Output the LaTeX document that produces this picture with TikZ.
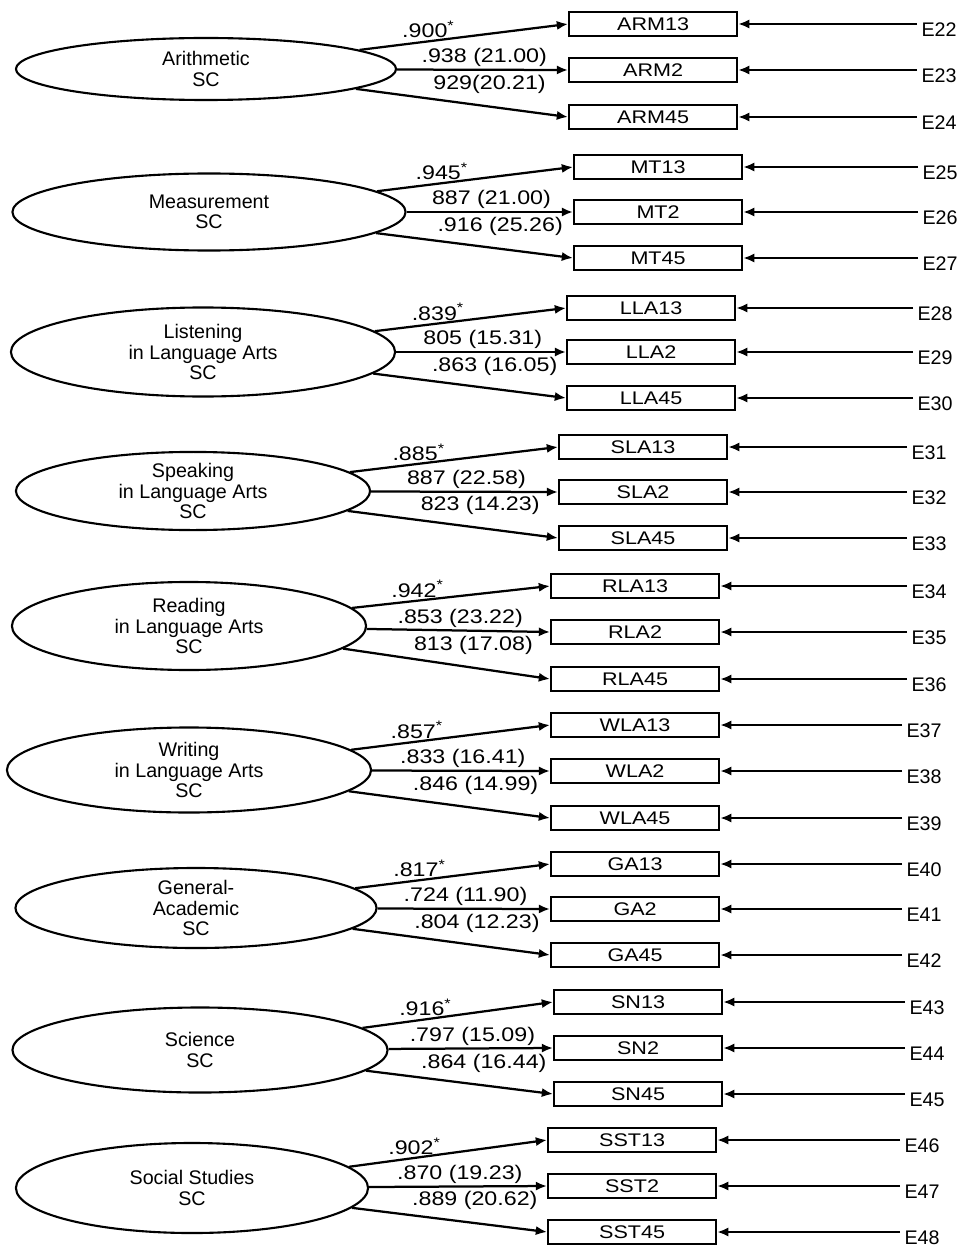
\documentclass[tikz,border=0pt]{standalone}
\usepackage{fontspec}
\setmainfont{Liberation Sans}
\newfontfamily\widesans[FakeStretch=1.18]{Liberation Sans}
\usetikzlibrary{arrows.meta,shapes.geometric}
\tikzset{
  latent/.style={draw, ellipse, line width=1.5pt, inner sep=0pt, align=center,
                 font=\fontsize{14}{14.5}\selectfont},
  itembox/.style={draw, rectangle, line width=1.5pt, anchor=west, minimum width=4.2cm,
                  minimum height=0.6cm, inner sep=0pt, font=\widesans\fontsize{13}{15}\selectfont},
  errlbl/.style={anchor=west, inner sep=3pt, font=\fontsize{14}{16}\selectfont},
  coef/.style={above, inner sep=1.5pt, font=\widesans\fontsize{14}{16}\selectfont},
  larr/.style={-{Latex[length=2.8mm,width=2.3mm]}, line width=1.6pt}}
\newcommand{\fixed}[1]{#1\textsuperscript{*}}

\begin{document}
\begin{tikzpicture}[x=0.025cm, y=-0.025cm]
  \path[use as bounding box] (0,0) rectangle (966,1247);

  % Arithmetic
  \node[latent, minimum width=9.5cm, minimum height=1.55cm] (ar) at (206,69) {Arithmetic\\SC};
  \node[itembox] (arm13) at (568,24) {ARM13};
  \node[itembox] (arm2) at (568,70) {ARM2};
  \node[itembox] (arm45) at (568,117) {ARM45};
  \node[errlbl] (e22) at (917,30) {E22};
  \node[errlbl] (e23) at (917,76) {E23};
  \node[errlbl] (e24) at (917,123) {E24};
  \draw[larr] (ar) -- node[coef, pos=.33] {\fixed{.900}} (arm13.west);
  \draw[larr] (ar) -- node[coef, pos=.51] {.938 (21.00)} (arm2.west);
  \draw[larr] (ar) -- node[coef, pos=.63, above=7pt] {929(20.21)} (arm45.west);
  \draw[larr] (e22.west |- arm13.east) -- (arm13.east);
  \draw[larr] (e23.west |- arm2.east) -- (arm2.east);
  \draw[larr] (e24.west |- arm45.east) -- (arm45.east);

  % Measurement
  \node[latent, minimum width=9.825cm, minimum height=1.925cm] (ms) at (209,212) {Measurement\\SC};
  \node[itembox] (mt13) at (573,167) {MT13};
  \node[itembox] (mt2) at (573,212) {MT2};
  \node[itembox] (mt45) at (573,258) {MT45};
  \node[errlbl] (e25) at (918,173) {E25};
  \node[errlbl] (e26) at (918,218) {E26};
  \node[errlbl] (e27) at (918,264) {E27};
  \draw[larr] (ms) -- node[coef, pos=.33] {\fixed{.945}} (mt13.west);
  \draw[larr] (ms) -- node[coef, pos=.51] {887 (21.00)} (mt2.west);
  \draw[larr] (ms) -- node[coef, pos=.63, above=7pt] {.916 (25.26)} (mt45.west);
  \draw[larr] (e25.west |- mt13.east) -- (mt13.east);
  \draw[larr] (e26.west |- mt2.east) -- (mt2.east);
  \draw[larr] (e27.west |- mt45.east) -- (mt45.east);

  % Listening
  \node[latent, minimum width=9.6cm, minimum height=2.225cm] (li) at (203,352) {Listening\\in Language Arts\\SC};
  \node[itembox] (lla13) at (566,308) {LLA13};
  \node[itembox] (lla2) at (566,352) {LLA2};
  \node[itembox] (lla45) at (566,398) {LLA45};
  \node[errlbl] (e28) at (913,314) {E28};
  \node[errlbl] (e29) at (913,358) {E29};
  \node[errlbl] (e30) at (913,404) {E30};
  \draw[larr] (li) -- node[coef, pos=.33] {\fixed{.839}} (lla13.west);
  \draw[larr] (li) -- node[coef, pos=.51] {805 (15.31)} (lla2.west);
  \draw[larr] (li) -- node[coef, pos=.63, above=7pt] {.863 (16.05)} (lla45.west);
  \draw[larr] (e28.west |- lla13.east) -- (lla13.east);
  \draw[larr] (e29.west |- lla2.east) -- (lla2.east);
  \draw[larr] (e30.west |- lla45.east) -- (lla45.east);

  % Speaking
  \node[latent, minimum width=8.85cm, minimum height=1.925cm] (sp) at (193,491) {Speaking\\in Language Arts\\SC};
  \node[itembox] (sla13) at (558,447) {SLA13};
  \node[itembox] (sla2) at (558,492) {SLA2};
  \node[itembox] (sla45) at (558,538) {SLA45};
  \node[errlbl] (e31) at (907,453) {E31};
  \node[errlbl] (e32) at (907,498) {E32};
  \node[errlbl] (e33) at (907,544) {E33};
  \draw[larr] (sp) -- node[coef, pos=.33] {\fixed{.885}} (sla13.west);
  \draw[larr] (sp) -- node[coef, pos=.51] {887 (22.58)} (sla2.west);
  \draw[larr] (sp) -- node[coef, pos=.63, above=7pt] {823 (14.23)} (sla45.west);
  \draw[larr] (e31.west |- sla13.east) -- (sla13.east);
  \draw[larr] (e32.west |- sla2.east) -- (sla2.east);
  \draw[larr] (e33.west |- sla45.east) -- (sla45.east);

  % Reading
  \node[latent, minimum width=8.85cm, minimum height=2.2cm] (rd) at (189,626) {Reading\\in Language Arts\\SC};
  \node[itembox] (rla13) at (550,586) {RLA13};
  \node[itembox] (rla2) at (550,632) {RLA2};
  \node[itembox] (rla45) at (550,679) {RLA45};
  \node[errlbl] (e34) at (907,592) {E34};
  \node[errlbl] (e35) at (907,638) {E35};
  \node[errlbl] (e36) at (907,685) {E36};
  \draw[larr] (rd) -- node[coef, pos=.33] {\fixed{.942}} (rla13.west);
  \draw[larr] (rd) -- node[coef, pos=.51] {.853 (23.22)} (rla2.west);
  \draw[larr] (rd) -- node[coef, pos=.63, above=7pt] {813 (17.08)} (rla45.west);
  \draw[larr] (e34.west |- rla13.east) -- (rla13.east);
  \draw[larr] (e35.west |- rla2.east) -- (rla2.east);
  \draw[larr] (e36.west |- rla45.east) -- (rla45.east);

  % Writing
  \node[latent, minimum width=9.1cm, minimum height=2.125cm] (wr) at (189,770) {Writing\\in Language Arts\\SC};
  \node[itembox] (wla13) at (550,725) {WLA13};
  \node[itembox] (wla2) at (550,771) {WLA2};
  \node[itembox] (wla45) at (550,818) {WLA45};
  \node[errlbl] (e37) at (902,731) {E37};
  \node[errlbl] (e38) at (902,777) {E38};
  \node[errlbl] (e39) at (902,824) {E39};
  \draw[larr] (wr) -- node[coef, pos=.33] {\fixed{.857}} (wla13.west);
  \draw[larr] (wr) -- node[coef, pos=.51] {.833 (16.41)} (wla2.west);
  \draw[larr] (wr) -- node[coef, pos=.63, above=7pt] {.846 (14.99)} (wla45.west);
  \draw[larr] (e37.west |- wla13.east) -- (wla13.east);
  \draw[larr] (e38.west |- wla2.east) -- (wla2.east);
  \draw[larr] (e39.west |- wla45.east) -- (wla45.east);

  % General-Academic
  \node[latent, minimum width=9.025cm, minimum height=2.0cm] (ga) at (196,908) {General-\\Academic\\SC};
  \node[itembox] (ga13) at (550,864) {GA13};
  \node[itembox] (ga2) at (550,909) {GA2};
  \node[itembox] (ga45) at (550,955) {GA45};
  \node[errlbl] (e40) at (902,870) {E40};
  \node[errlbl] (e41) at (902,915) {E41};
  \node[errlbl] (e42) at (902,961) {E42};
  \draw[larr] (ga) -- node[coef, pos=.33] {\fixed{.817}} (ga13.west);
  \draw[larr] (ga) -- node[coef, pos=.51] {.724 (11.90)} (ga2.west);
  \draw[larr] (ga) -- node[coef, pos=.63, above=7pt] {.804 (12.23)} (ga45.west);
  \draw[larr] (e40.west |- ga13.east) -- (ga13.east);
  \draw[larr] (e41.west |- ga2.east) -- (ga2.east);
  \draw[larr] (e42.west |- ga45.east) -- (ga45.east);

  % Science
  \node[latent, minimum width=9.375cm, minimum height=2.125cm] (sn) at (200,1050) {Science\\SC};
  \node[itembox] (sn13) at (553,1002) {SN13};
  \node[itembox] (sn2) at (553,1048) {SN2};
  \node[itembox] (sn45) at (553,1094) {SN45};
  \node[errlbl] (e43) at (905,1008) {E43};
  \node[errlbl] (e44) at (905,1054) {E44};
  \node[errlbl] (e45) at (905,1100) {E45};
  \draw[larr] (sn) -- node[coef, pos=.33] {\fixed{.916}} (sn13.west);
  \draw[larr] (sn) -- node[coef, pos=.51] {.797 (15.09)} (sn2.west);
  \draw[larr] (sn) -- node[coef, pos=.63, above=7pt] {.864 (16.44)} (sn45.west);
  \draw[larr] (e43.west |- sn13.east) -- (sn13.east);
  \draw[larr] (e44.west |- sn2.east) -- (sn2.east);
  \draw[larr] (e45.west |- sn45.east) -- (sn45.east);

  % Social Studies
  \node[latent, minimum width=8.8cm, minimum height=2.25cm] (ss) at (192,1188) {Social Studies\\SC};
  \node[itembox] (sst13) at (547,1140) {SST13};
  \node[itembox] (sst2) at (547,1186) {SST2};
  \node[itembox] (sst45) at (547,1232) {SST45};
  \node[errlbl] (e46) at (900,1146) {E46};
  \node[errlbl] (e47) at (900,1192) {E47};
  \node[errlbl] (e48) at (900,1238) {E48};
  \draw[larr] (ss) -- node[coef, pos=.33] {\fixed{.902}} (sst13.west);
  \draw[larr] (ss) -- node[coef, pos=.51] {.870 (19.23)} (sst2.west);
  \draw[larr] (ss) -- node[coef, pos=.63, above=7pt] {.889 (20.62)} (sst45.west);
  \draw[larr] (e46.west |- sst13.east) -- (sst13.east);
  \draw[larr] (e47.west |- sst2.east) -- (sst2.east);
  \draw[larr] (e48.west |- sst45.east) -- (sst45.east);
\end{tikzpicture}
\end{document}
